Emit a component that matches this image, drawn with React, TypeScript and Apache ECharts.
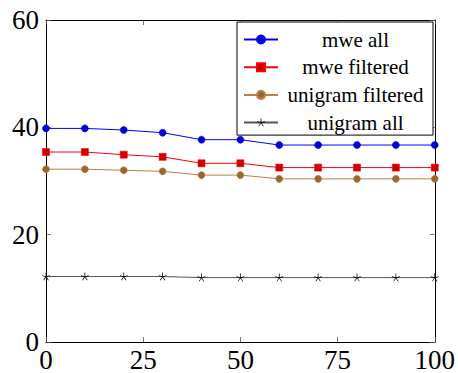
import React, { useEffect, useRef } from "react";
import * as echarts from "echarts";

const xValues = [0, 10, 20, 30, 40, 50, 60, 70, 80, 90, 100];
const mweAll = [39.8, 39.8, 39.5, 39.0, 37.7, 37.7, 36.7, 36.7, 36.7, 36.7, 36.7];
const mweFiltered = [35.4, 35.4, 34.9, 34.5, 33.3, 33.3, 32.5, 32.5, 32.5, 32.5, 32.5];
const unigramFiltered = [32.2, 32.2, 32.0, 31.8, 31.1, 31.1, 30.4, 30.4, 30.4, 30.4, 30.4];
const unigramAll = [12.2, 12.2, 12.2, 12.2, 12.0, 12.0, 12.0, 12.0, 12.0, 12.0, 12.0];
const seriesNames = ["mwe all", "mwe filtered", "unigram filtered", "unigram all"];

function starPath(): string {
  const parts: string[] = [];
  const w = 0.09;
  for (let i = 0; i < 5; i++) {
    const a = -Math.PI / 2 + (i * 2 * Math.PI) / 5;
    const c = Math.cos(a), s = Math.sin(a);
    const px = -s * w, py = c * w;
    const pts = [
      [px, py],
      [c + px, s + py],
      [c - px, s - py],
      [-px, -py],
    ];
    parts.push(
      "M" + pts.map((p) => (p[0] + 1).toFixed(3) + " " + (p[1] + 1).toFixed(3)).join(" L") + " Z"
    );
  }
  return "path://" + parts.join(" ");
}

const FONT = "Liberation Serif";

export default function App() {
  const ref = useRef<HTMLDivElement>(null);
  useEffect(() => {
    if (!ref.current) return;
    const chart = echarts.init(ref.current, null, { renderer: "svg" });
    const mk = (arr: number[]) => xValues.map((x, i) => [x, arr[i]]);
    const axisLine = { show: true, onZero: false, lineStyle: { color: "#000", width: 1 } };
    const axisTick = { show: true, inside: true, length: 5, lineStyle: { color: "#555", width: 0.8 } };
    chart.setOption({
      animation: false,
      backgroundColor: "#fff",
      textStyle: { fontFamily: FONT },
      grid: { left: 46, right: 23, top: 20, bottom: 30.5, containLabel: false },
      legend: {
        left: 237,
        top: 22,
        orient: "vertical",
        width: 195,
        data: seriesNames,
        borderColor: "#000",
        borderWidth: 1,
        backgroundColor: "#fff",
        padding: [7, 5, 2, 6],
        itemWidth: 34,
        itemHeight: 10,
        itemGap: 6.7,
        formatter: (n: string) => "{a|" + n + "}",
        textStyle: {
          fontFamily: FONT,
          fontSize: 21,
          color: "#000",
          rich: {
            a: { fontFamily: FONT, fontSize: 21, width: 145, align: "center", lineHeight: 20, color: "#000" },
          },
        },
      },
      xAxis: [
        {
          type: "value",
          min: 0,
          max: 100,
          interval: 25,
          position: "bottom",
          splitLine: { show: false },
          axisLine,
          axisTick,
          axisLabel: { fontFamily: FONT, fontSize: 27, color: "#000", margin: 4 },
        },
        {
          type: "value",
          min: 0,
          max: 100,
          interval: 25,
          position: "top",
          splitLine: { show: false },
          axisLine,
          axisTick,
          axisLabel: { show: false },
        },
      ],
      yAxis: [
        {
          type: "value",
          min: 0,
          max: 60,
          interval: 20,
          position: "left",
          splitLine: { show: false },
          axisLine,
          axisTick,
          axisLabel: { fontFamily: FONT, fontSize: 27, color: "#000", margin: 7 },
        },
        {
          type: "value",
          min: 0,
          max: 60,
          interval: 20,
          position: "right",
          splitLine: { show: false },
          axisLine,
          axisTick,
          axisLabel: { show: false },
        },
      ],
      series: [
        {
          name: seriesNames[0],
          type: "line",
          data: mk(mweAll),
          symbol: "circle",
          symbolSize: 7,
          lineStyle: { color: "#0000ff", width: 1 },
          itemStyle: { color: "#0000cc", borderColor: "#0000ff", borderWidth: 0.6 },
        },
        {
          name: seriesNames[1],
          type: "line",
          data: mk(mweFiltered),
          symbol: "rect",
          symbolSize: 7,
          lineStyle: { color: "#ff0000", width: 1 },
          itemStyle: { color: "#cc0000", borderColor: "#ff0000", borderWidth: 0.6 },
        },
        {
          name: seriesNames[2],
          type: "line",
          data: mk(unigramFiltered),
          symbol: "circle",
          symbolSize: 7,
          lineStyle: { color: "#bf8040", width: 1 },
          itemStyle: { color: "#996633", borderColor: "#bf8040", borderWidth: 0.6 },
        },
        {
          name: seriesNames[3],
          type: "line",
          data: mk(unigramAll),
          symbol: starPath(),
          symbolSize: 8,
          lineStyle: { color: "#555", width: 1 },
          itemStyle: { color: "#000" },
        },
      ],
    });
    return () => chart.dispose();
  }, []);
  return <div ref={ref} style={{ width: 458, height: 373, position: "absolute", left: 0, top: 0 }} />;
}
